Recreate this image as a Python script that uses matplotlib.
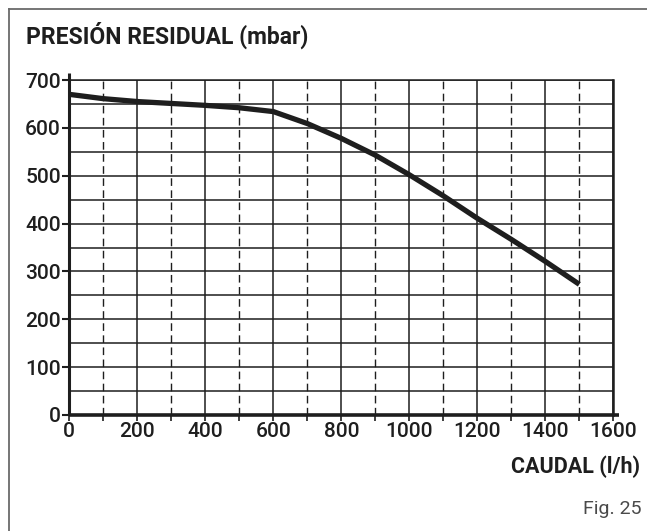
import matplotlib
matplotlib.use("Agg")
import matplotlib.pyplot as plt
from matplotlib.lines import Line2D
from matplotlib.ticker import MultipleLocator

plt.rcParams['font.family'] = ['Roboto', 'DejaVu Sans']

# Residual pressure curve of the circulator
caudal = [0, 100, 200, 300, 400, 500, 600, 700, 800, 900, 1000, 1100, 1200, 1300, 1400, 1500]
presion = [670, 661, 655, 651, 647, 642, 634, 609, 578, 543, 502, 458, 411, 367, 321, 273]

x_ticks = [0, 200, 400, 600, 800, 1000, 1200, 1400, 1600]
y_ticks = [0, 100, 200, 300, 400, 500, 600, 700]

W, H = 647, 531
fig = plt.figure(figsize=(W / 100, H / 100), dpi=100)

def fx(px):
    return px / W

def fy(py):
    return 1 - py / H

ax = fig.add_axes([fx(69.3), fy(415), fx(613.3) - fx(69.3), fy(80) - fy(415)])
ax.set_xlim(0, 1600)
ax.set_ylim(0, 700)

ink = '#1e1e1e'

# grid: solid every 50 mbar horizontally, solid/dashed alternating vertically
ax.xaxis.set_major_locator(MultipleLocator(200))
ax.xaxis.set_minor_locator(MultipleLocator(100))
ax.yaxis.set_major_locator(MultipleLocator(100))
ax.yaxis.set_minor_locator(MultipleLocator(50))
ax.grid(which='major', axis='both', color=ink, lw=1.1)
ax.grid(which='minor', axis='y', color=ink, lw=1.1)
ax.grid(which='minor', axis='x', color=ink, lw=1.0, linestyle=(0, (5.5, 3.2)))
ax.set_axisbelow(True)

ax.set_xticks(x_ticks)
ax.set_yticks(y_ticks)
ax.set_xticklabels([str(v) for v in x_ticks], fontweight='medium')
ax.set_yticklabels([str(v) for v in y_ticks], fontweight='medium')
ax.tick_params(axis='x', which='both', direction='out', length=4, width=1.2,
               color=ink, labelsize=15, pad=1, labelcolor=ink)
ax.tick_params(axis='y', which='major', direction='out', length=5, width=1.5,
               color=ink, labelsize=15, pad=1, labelcolor=ink)
ax.tick_params(axis='y', which='minor', length=0)

for s in ('left', 'bottom'):
    ax.spines[s].set_visible(False)
ax.spines['top'].set_color(ink)
ax.spines['top'].set_linewidth(1.1)
ax.spines['right'].set_color(ink)
ax.spines['right'].set_linewidth(1.8)

# axis lines running slightly past the plotting area
ax.plot([0, 0], [0, 1.021], transform=ax.transAxes, color=ink, lw=2.2,
        clip_on=False, solid_capstyle='butt', zorder=5)
ax.plot([0, 1.0105], [0, 0], transform=ax.transAxes, color=ink, lw=2.6,
        clip_on=False, solid_capstyle='butt', zorder=5)

ax.plot(caudal, presion, color=ink, lw=3.8, solid_capstyle='butt',
        solid_joinstyle='round', zorder=6)

fig.text(fx(26), fy(44), 'PRESIÓN RESIDUAL (mbar)', fontsize=16.5,
         fontweight='bold', color=ink, ha='left', va='baseline')
fig.text(fx(640), fy(473), 'CAUDAL (l/h)', fontsize=15.5,
         fontweight='bold', color=ink, ha='right', va='baseline')
fig.text(fx(641.5), fy(514), 'Fig. 25', fontsize=14, fontweight='normal',
         color='#4a4a4a', ha='right', va='baseline')

# outer frame (top and left edges)
frame = '#6a6a6a'
fig.add_artist(Line2D([fx(9), 1.0], [fy(9), fy(9)], color=frame, lw=1.3))
fig.add_artist(Line2D([fx(9), fx(9)], [fy(9), 0], color=frame, lw=1.3))

fig.savefig('out.png', dpi=100)
